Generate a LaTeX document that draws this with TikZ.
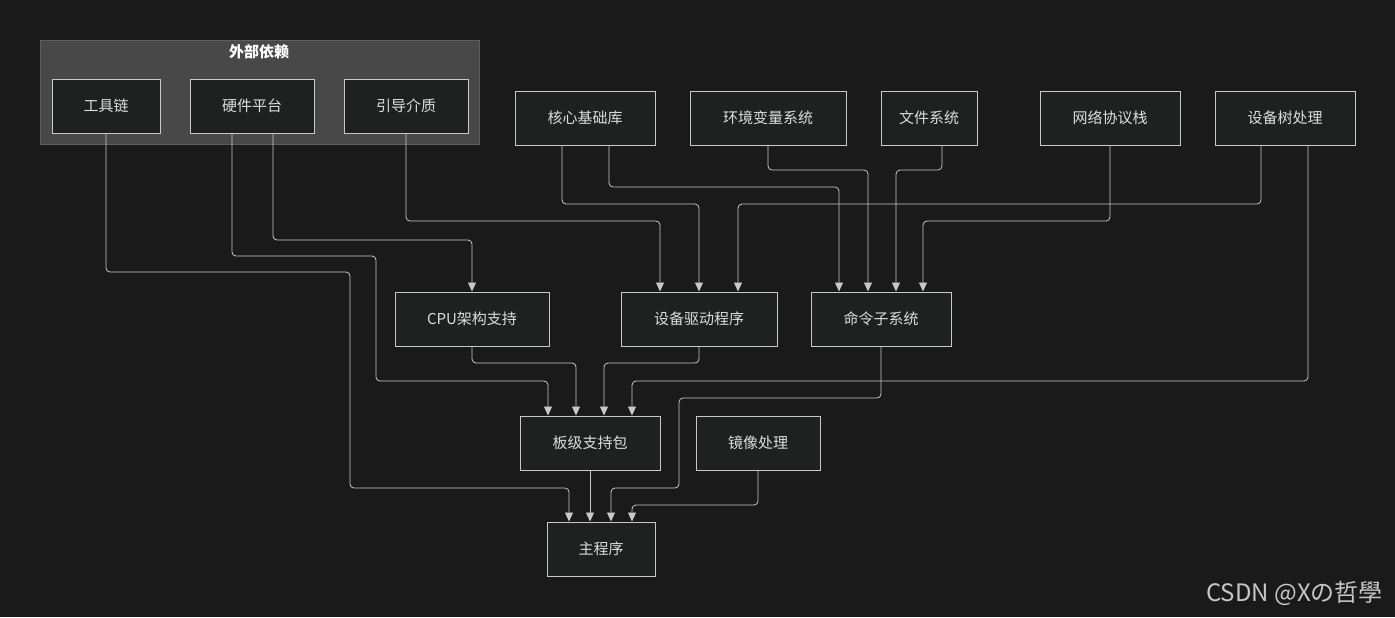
\documentclass[tikz,border=0pt]{standalone}
\usepackage{fontspec}
\setmainfont{Noto Sans CJK SC}
\usetikzlibrary{arrows.meta}
\definecolor{bg}{HTML}{1A1A1A}
\definecolor{boxfill}{HTML}{1F2020}
\definecolor{boxline}{HTML}{C8C8C8}
\definecolor{grpfill}{HTML}{484848}
\definecolor{grpline}{HTML}{5E5E5E}
\definecolor{txt}{HTML}{DDDDDD}
\tikzset{
  box/.style={draw=boxline, fill=boxfill, text=txt, font=\fontsize{7.5}{9}\selectfont,
    minimum height=27pt, inner sep=0pt, line width=0.5pt},
  link/.style={draw=boxline, line width=0.4pt, rounded corners=2pt,
    -{Triangle[length=4.5pt,width=4pt]}}
}
\begin{document}
\begin{tikzpicture}[x=0.5pt,y=-0.5pt]
    \fill[bg] (0,0) rectangle (1395,617);
    \useasboundingbox (0,0) rectangle (1395,617);
    % external group
    \draw[fill=grpfill, draw=grpline] (40,40) rectangle (479,144);
    \node[text=white, font=\fontsize{7.5}{9}\selectfont\bfseries] (grp) at (259,52) {外部依赖};
    \node[box, minimum width=54pt] (tool) at (106,106) {工具链};
    \node[box, minimum width=62pt] (hw) at (252,106) {硬件平台};
    \node[box, minimum width=62pt] (boot) at (406,106) {引导介质};
    % top row
    \node[box, minimum width=70pt] (core) at (585,118) {核心基础库};
    \node[box, minimum width=78pt] (env) at (768,118) {环境变量系统};
    \node[box, minimum width=48pt] (fs) at (929,118) {文件系统};
    \node[box, minimum width=70pt] (net) at (1110,118) {网络协议栈};
    \node[box, minimum width=70pt] (dt) at (1285,118) {设备树处理};
    % middle row
    \node[box, minimum width=77pt] (cpu) at (472,319) {CPU架构支持};
    \node[box, minimum width=78pt] (drv) at (699,319) {设备驱动程序};
    \node[box, minimum width=70pt] (cmd) at (881,319) {命令子系统};
    \node[box, minimum width=70pt] (bsp) at (590,443) {板级支持包};
    \node[box, minimum width=62pt] (img) at (758,443) {镜像处理};
    \node[box, minimum width=54pt] (main) at (601,549) {主程序};
    % connectors
    \draw[link] (tool.south) -- (106,272) -- (350,272) -- (350,488) -- (569,488) -- (main.north -| 569,0);
    \draw[link] (hw.south -| 232,0) -- (232,256) -- (376,256) -- (376,381) -- (548,381) -- (bsp.north -| 548,0);
    \draw[link] (hw.south -| 273,0) -- (273,240) -- (472,240) -- (cpu.north);
    \draw[link] (boot.south) -- (406,221) -- (660,221) -- (drv.north -| 660,0);
    \draw[link] (core.south -| 562,0) -- (562,204) -- (699,204) -- (drv.north);
    \draw[link] (core.south -| 609,0) -- (609,187) -- (839,187) -- (cmd.north -| 839,0);
    \draw[link] (env.south) -- (768,170) -- (868,170) -- (cmd.north -| 868,0);
    \draw[link] (fs.south -| 942,0) -- (942,170) -- (896,170) -- (cmd.north -| 896,0);
    \draw[link] (dt.south -| 1261,0) -- (1261,204) -- (738,204) -- (drv.north -| 738,0);
    \draw[link] (net.south) -- (1110,221) -- (923,221) -- (cmd.north -| 923,0);
    \draw[link] (dt.south -| 1308,0) -- (1308,381) -- (632,381) -- (bsp.north -| 632,0);
    \draw[link] (cpu.south) -- (472,363) -- (576,363) -- (bsp.north -| 576,0);
    \draw[link] (drv.south) -- (699,363) -- (604,363) -- (bsp.north -| 604,0);
    \draw[link] (cmd.south) -- (881,398) -- (679,398) -- (679,488) -- (611,488) -- (main.north -| 611,0);
    \draw[link] (bsp.south) -- (main.north -| bsp.south);
    \draw[link] (img.south) -- (758,505) -- (632,505) -- (main.north -| 632,0);
    % watermark
    \node[text=white!75!bg, font=\fontsize{12}{14}\selectfont, anchor=east] (mark) at (1390,593) {CSDN @Xの哲學};
\end{tikzpicture}
\end{document}
